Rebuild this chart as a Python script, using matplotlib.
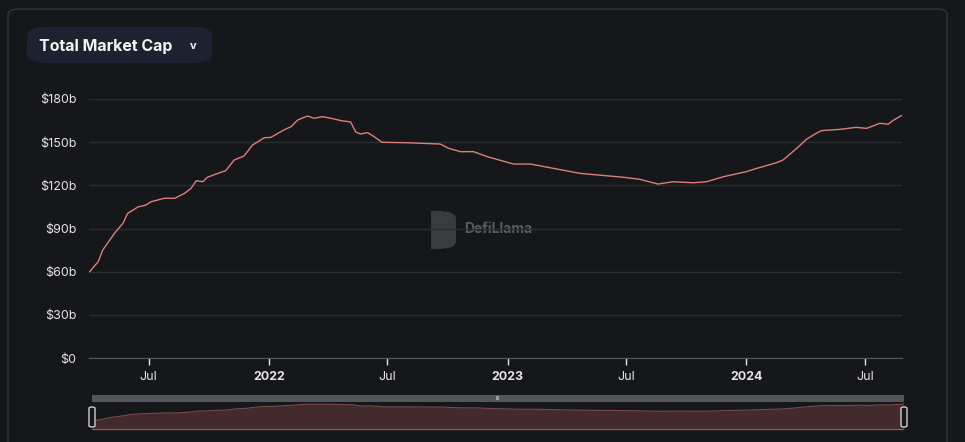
import matplotlib.pyplot as plt
from matplotlib.patches import FancyBboxPatch, Rectangle, Wedge
import pandas as pd

# total market cap, $b
dates = ['2021-04-02', '2021-04-15', '2021-04-22', '2021-05-10', '2021-05-23', '2021-05-30',
         '2021-06-15', '2021-06-27', '2021-07-05', '2021-07-25', '2021-08-10', '2021-08-25',
         '2021-09-04', '2021-09-12', '2021-09-22', '2021-09-29', '2021-10-15', '2021-10-27',
         '2021-11-09', '2021-11-24', '2021-12-07', '2021-12-25', '2022-01-04', '2022-01-24',
         '2022-02-04', '2022-02-14', '2022-03-01', '2022-03-11', '2022-03-24', '2022-04-06',
         '2022-04-21', '2022-05-06', '2022-05-14', '2022-05-21', '2022-06-01', '2022-06-11',
         '2022-06-23', '2022-08-01', '2022-09-20', '2022-10-03', '2022-10-21', '2022-11-10',
         '2022-12-01', '2023-01-10', '2023-02-05', '2023-03-12', '2023-04-22', '2023-06-27',
         '2023-07-22', '2023-08-19', '2023-09-11', '2023-10-12', '2023-11-01', '2023-11-27',
         '2024-01-01', '2024-01-17', '2024-02-16', '2024-02-26', '2024-03-18', '2024-04-02',
         '2024-04-17', '2024-04-25', '2024-05-23', '2024-06-17', '2024-07-03', '2024-07-23',
         '2024-08-05', '2024-08-12', '2024-08-25']
mcap = [60.0, 66.9, 75.0, 86.7, 93.6, 100.5,
        105.0, 106.3, 108.6, 111.0, 111.0, 114.4,
        117.9, 123.2, 122.5, 125.6, 128.3, 130.2,
        137.6, 140.4, 148.0, 153.1, 153.3, 158.5,
        160.8, 165.4, 168.2, 166.6, 167.7, 166.6,
        165.0, 164.0, 157.0, 155.7, 156.6, 153.8,
        149.9, 149.6, 148.7, 145.7, 143.4, 143.4,
        139.9, 134.8, 134.8, 131.8, 128.3, 125.6,
        124.2, 120.9, 122.5, 121.8, 122.5, 126.0,
        129.5, 131.8, 135.7, 137.6, 145.7, 152.0,
        156.2, 158.0, 158.9, 160.3, 159.6, 163.1,
        162.5, 165.0, 168.4]

y_ticks = [0, 30, 60, 90, 120, 150, 180]
y_labels = ['$0', '$30b', '$60b', '$90b', '$120b', '$150b', '$180b']
x_ticks = ['2021-07-01', '2022-01-01', '2022-07-01', '2023-01-01', '2023-07-01', '2024-01-01', '2024-07-01']
x_labels = ['Jul', '2022', 'Jul', '2023', 'Jul', '2024', 'Jul']

dates = pd.to_datetime(dates)
x_ticks = pd.to_datetime(x_ticks)

bg = '#16171a'
W, H = 965, 442
plt.rcParams['font.family'] = ['Inter', 'DejaVu Sans']

fig = plt.figure(figsize=(W / 100, H / 100), dpi=100, facecolor=bg)

# card border and title button (behind everything)
fig.patches.append(FancyBboxPatch((8 / W, -0.05), 939 / W, 1 - 9 / H + 0.05,
                                  boxstyle='round,pad=0,rounding_size=0.012',
                                  transform=fig.transFigure, fc=bg, ec='#34353a', lw=1,
                                  zorder=-5))
fig.patches.append(FancyBboxPatch((27 / W, 1 - 63 / H), 185 / W, 36 / H,
                                  boxstyle='round,pad=0,rounding_size=0.02',
                                  transform=fig.transFigure, fc='#1c2230', ec='none', zorder=-4))
fig.text(39 / W, 1 - 46 / H, 'Total Market Cap', color='#f2f2f2', fontsize=11.5,
         fontweight='bold', va='center', ha='left')
fig.text(193 / W, 1 - 46 / H, 'v', color='#f2f2f2', fontsize=8, va='center', ha='center',
         fontweight='bold')

# watermark, under the line
fig.patches.append(Rectangle((431 / W, 1 - 249 / H), 12 / W, 38 / H,
                             transform=fig.transFigure, fc='#3a3b3f', ec='none', zorder=-3))
fig.patches.append(FancyBboxPatch((436 / W, 1 - 249 / H), 20 / W, 38 / H,
                                  boxstyle='round,pad=0,rounding_size=0.018',
                                  transform=fig.transFigure, fc='#3a3b3f', ec='none', zorder=-3))
fig.text(464 / W, 1 - 229 / H, 'DefiLlama', color='#5b5c61', fontsize=10,
         fontweight='bold', va='center', ha='left', zorder=-3)

x0, x1 = pd.Timestamp('2021-04-01'), pd.Timestamp('2024-08-26')

ax = fig.add_axes([89 / W, (H - 358) / H, (902 - 89) / W, (358 - 99) / H])
ax.set_zorder(2)
ax.set_facecolor('none')
ax.plot(dates, mcap, color='#dc7f7c', lw=1.0, zorder=3)
ax.set_xlim(x0, x1)
ax.set_ylim(0, 180)
ax.set_yticks(y_ticks)
ax.set_yticklabels(y_labels)
ax.set_xticks(x_ticks)
ax.set_xticklabels(x_labels)
for lbl in ax.get_xticklabels():
    if lbl.get_text().isdigit():
        lbl.set_fontweight('bold')
ax.grid(axis='y', color='#2b2c31', lw=1)
ax.tick_params(axis='y', length=0, pad=9, labelsize=9, labelcolor='#e4e4e4')
ax.tick_params(axis='x', length=5, width=1, color='#e4e4e4', pad=4, labelsize=9,
               labelcolor='#e4e4e4')
for s in ['top', 'right', 'left']:
    ax.spines[s].set_visible(False)
ax.spines['bottom'].set_color('#55565b')

# brush / zoom slider
bx = fig.add_axes([92 / W, (H - 430) / H, (904 - 92) / W, (430 - 403) / H])
bx.set_zorder(1)
bx.set_facecolor('none')
bx.fill_between(dates, mcap, 0, color='#432a2c', lw=0)
bx.plot(dates, mcap, color='#7a4a4a', lw=0.8)
bx.set_xlim(dates[0], dates[-1])
bx.set_ylim(0, 175)
bx.set_xticks([])
bx.set_yticks([])
for s in bx.spines.values():
    s.set_visible(False)
bx.axhline(0, color='#6a6b70', lw=1.5)
fig.patches.append(Rectangle((92 / W, 1 - 402 / H), 812 / W, 7 / H,
                             transform=fig.transFigure, fc='#55565b', ec='none', zorder=3))
fig.text(498 / W, 1 - 398.5 / H, 'III', color='#e0e0e0', fontsize=4, ha='center', va='center',
         zorder=4)
for hx in (92, 904):
    fig.patches.append(FancyBboxPatch(((hx - 3) / W, 1 - 427 / H), 6 / W, 20 / H,
                                      boxstyle='round,pad=0,rounding_size=0.003',
                                      transform=fig.transFigure, fc=bg, ec='#cfcfcf', lw=1,
                                      zorder=4))

fig.savefig('out.png', dpi=100, facecolor=bg)
